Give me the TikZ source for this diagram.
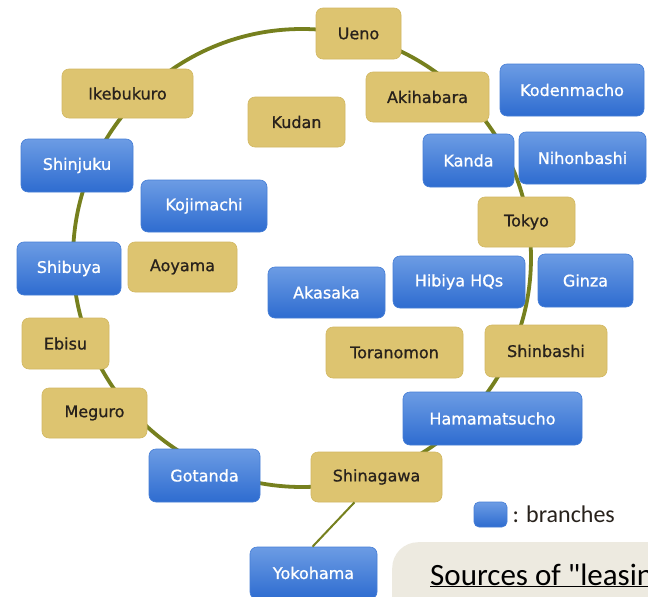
\documentclass[tikz,border=0pt]{standalone}
\usepackage{fontspec}
\setmainfont{DejaVu Sans}
\newfontfamily\labelfont{DejaVu Sans}[BoldFont={DejaVu Sans}, BoldFeatures={FakeBold=0.9}]
\newfontfamily\notefont{Carlito}
\usetikzlibrary{calc}

\definecolor{stationgold}{RGB}{221,196,112}
\definecolor{stationedge}{RGB}{210,184,98}
\definecolor{branchtop}{RGB}{108,156,228}
\definecolor{branchbot}{RGB}{46,108,208}
\definecolor{branchedge}{RGB}{70,126,214}
\definecolor{lineolive}{RGB}{118,128,30}
\definecolor{notebg}{RGB}{237,234,224}
\definecolor{darktext}{RGB}{40,34,28}

\tikzset{
  box/.style={rounded corners=7pt, inner sep=0pt, font=\labelfont\bfseries\fontsize{16}{18}\selectfont},
  station/.style={box, fill=stationgold, draw=stationedge, line width=0.6pt, text=darktext},
  branch/.style={box, top color=branchtop, bottom color=branchbot, draw=branchedge, line width=0.6pt, text=white},
  loopline/.style={draw=lineolive, line width=3.8pt},
  spur/.style={draw=lineolive, line width=2pt},
}

\begin{document}
\begin{tikzpicture}[x=1pt, y=-1pt]
  \useasboundingbox (0,0) rectangle (648,597);
  \clip (0,0) rectangle (648,597);
  \fill[white] (0,0) rectangle (648,597);

  % the loop line
  \coordinate (ring) at (302,258);
  \draw[loopline] (ring) circle[radius=229pt];

  % stations on and inside the loop
  \node[station, minimum width=85pt,  minimum height=51pt] (ueno)      at (358.5,33.5) {Ueno};
  \node[station, minimum width=131pt, minimum height=49pt] (ikebukuro) at (127.5,93.5) {Ikebukuro};
  \node[station, minimum width=97pt,  minimum height=50pt] (kudan)     at (296.5,122)  {Kudan};
  \node[station, minimum width=123pt, minimum height=50pt] (akihabara) at (427.5,97)   {Akihabara};
  \node[station, minimum width=109pt, minimum height=50pt] (aoyama)    at (182.5,267)  {Aoyama};
  \node[station, minimum width=97pt,  minimum height=50pt] (tokyo)     at (526.5,222)  {Tokyo};
  \node[station, minimum width=137pt, minimum height=51pt] (toranomon) at (394.5,352.5){Toranomon};
  \node[station, minimum width=122pt, minimum height=52pt] (shinbashi) at (546,351)    {Shinbashi};
  \node[station, minimum width=87pt,  minimum height=51pt] (ebisu)     at (65.5,343.5) {Ebisu};
  \node[station, minimum width=105pt, minimum height=50pt] (meguro)    at (94.5,413)   {Meguro};
  \node[station, minimum width=131pt, minimum height=50pt] (shinagawa) at (376.5,477)  {Shinagawa};

  % branches
  \node[branch, minimum width=144pt, minimum height=52pt] (kodenmacho) at (572,90)     {Kodenmacho};
  \node[branch, minimum width=112pt, minimum height=53pt] (shinjuku)   at (77,165.5)   {Shinjuku};
  \node[branch, minimum width=126pt, minimum height=52pt] (kojimachi)  at (204,206)    {Kojimachi};
  \node[branch, minimum width=91pt,  minimum height=53pt] (kanda)      at (468.5,160.5){Kanda};
  \node[branch, minimum width=127pt, minimum height=52pt] (nihonbashi) at (582.5,158)  {Nihonbashi};
  \node[branch, minimum width=104pt, minimum height=53pt] (shibuya)    at (69,268.5)   {Shibuya};
  \node[branch, minimum width=117pt, minimum height=51pt] (akasaka)    at (326.5,292.5){Akasaka};
  \node[branch, minimum width=132pt, minimum height=52pt] (hibiya)     at (459,282)    {Hibiya HQs};
  \node[branch, minimum width=95pt,  minimum height=53pt] (ginza)      at (585.5,280.5){Ginza};
  \node[branch, minimum width=179pt, minimum height=53pt] (hamamatsucho) at (492.5,418.5){Hamamatsucho};
  \node[branch, minimum width=111pt, minimum height=53pt] (gotanda)    at (204.5,475.5){Gotanda};
  \node[branch, minimum width=127pt, minimum height=52pt] (yokohama)   at (313.5,573)  {Yokohama};

  % spur from Shinagawa down to Yokohama
  \draw[spur] ([xshift=-22pt]shinagawa.south) -- ([xshift=-1pt]yokohama.north);

  % legend
  \node[branch, rounded corners=5pt, minimum width=33pt, minimum height=25pt] (legendkey) at (490.5,514.5) {};
  \node[anchor=west, inner sep=0pt, text=darktext, font=\notefont\fontsize{24}{26}\selectfont] (legendtext)
    at ([xshift=5pt]legendkey.east) {: branches};

  % note panel in the corner
  \node[fill=notebg, rounded corners=26pt, minimum width=320pt, minimum height=110pt, anchor=north west] (notepanel) at (392,542) {};
  \node[anchor=base west, inner sep=0pt, font=\notefont\fontsize{31}{33}\selectfont] (notetext)
    at (430,585) {\underline{Sources of "leasin}};
\end{tikzpicture}
\end{document}
